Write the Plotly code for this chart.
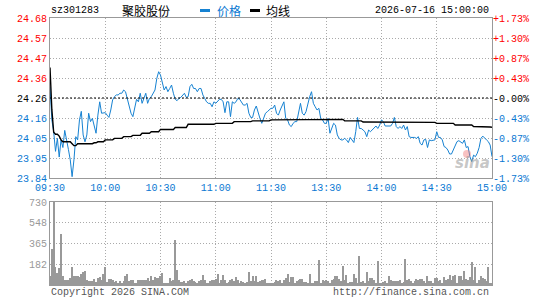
import plotly.graph_objects as go

W, H = 545, 300
prev_close = 24.26

time_ticks = [0, 30, 60, 90, 120, 150, 180, 210, 240]
time_labels = ["09:30", "10:00", "10:30", "11:00", "11:30", "13:30", "14:00", "14:30", "15:00"]

price_ticks = [24.68, 24.575, 24.47, 24.365, 24.26, 24.155, 24.05, 23.945, 23.84]
price_labels = ["24.68", "24.57", "24.47", "24.36", "24.26", "24.16", "24.05", "23.95", "23.84"]
pct_labels = ["+1.73%", "+1.30%", "+0.87%", "+0.43%", "-0.00%", "-0.43%", "-0.87%", "-1.30%", "-1.73%"]

vol_ticks = [182, 365, 548, 730]
vol_labels = ["182", "365", "548", "730"]

price = [
    24.32, 24.145, 24.083, 23.98, 24.048, 23.95, 24.04, 24.00, 24.09, 24.048,
    23.99, 23.935, 23.847, 23.935, 24.057, 24.04, 24.145, 24.19, 24.066, 24.03,
    24.066, 24.18, 24.136, 24.153, 24.118, 24.075, 24.17, 24.24, 24.18, 24.18,
    24.183, 24.17, 24.158, 24.197, 24.25, 24.267, 24.276, 24.276, 24.285, 24.285,
    24.302, 24.293, 24.25, 24.206, 24.18, 24.162, 24.214, 24.253, 24.24, 24.285,
    24.232, 24.258, 24.285, 24.232, 24.258, 24.267, 24.285, 24.302, 24.363, 24.398,
    24.38, 24.337, 24.302, 24.32, 24.293, 24.31, 24.328, 24.285, 24.253, 24.246,
    24.258, 24.263, 24.276, 24.285, 24.263, 24.267, 24.32, 24.332, 24.31, 24.31,
    24.293, 24.31, 24.31, 24.276, 24.258, 24.24, 24.232, 24.232, 24.214, 24.24,
    24.232, 24.24, 24.253, 24.253, 24.24, 24.183, 24.24, 24.24, 24.162, 24.24,
    24.232, 24.24, 24.258, 24.253, 24.24, 24.223, 24.223, 24.232, 24.18, 24.158,
    24.158, 24.197, 24.218, 24.18, 24.153, 24.127, 24.153, 24.18, 24.188, 24.197,
    24.206, 24.206, 24.223, 24.18, 24.17, 24.197, 24.223, 24.24, 24.153, 24.145,
    24.118, 24.11, 24.127, 24.136, 24.136, 24.18, 24.232, 24.18, 24.17, 24.188,
    24.232, 24.267, 24.293, 24.232, 24.214, 24.197, 24.206, 24.153, 24.145, 24.127,
    24.127, 24.153, 24.075, 24.10, 24.127, 24.118, 24.066, 24.048, 24.04, 24.04,
    24.048, 24.04, 24.026, 24.053, 24.04, 24.026, 24.083, 24.158, 24.10, 24.10,
    24.092, 24.083, 24.057, 24.092, 24.083, 24.092, 24.10, 24.113, 24.10, 24.118,
    24.145, 24.136, 24.113, 24.113, 24.113, 24.113, 24.127, 24.158, 24.11, 24.10,
    24.11, 24.10, 24.118, 24.092, 24.11, 24.057, 24.053, 24.053, 24.053, 24.048,
    24.057, 24.022, 24.013, 24.04, 24.043, 24.00, 24.04, 24.036, 24.04, 24.04,
    24.083, 24.053, 24.053, 24.04, 24.005, 24.00, 23.987, 23.966, 23.966, 23.987,
    24.013, 24.031, 24.036, 24.031, 24.022, 24.04, 24.00, 24.005, 23.952, 23.926,
    23.96, 23.952, 23.97, 24.00, 24.048, 24.06, 24.048, 24.04, 24.031, 24.013,
    23.952,
]

avg_price = [
    24.42, 24.20, 24.08, 24.07, 24.07, 24.06, 24.04, 24.03, 24.03, 24.03,
    24.03, 24.03, 24.02, 24.01, 24.01, 24.02, 24.02, 24.02, 24.02, 24.02,
    24.02, 24.02, 24.02, 24.02, 24.025, 24.025, 24.03, 24.03, 24.03, 24.03,
    24.04, 24.04, 24.04, 24.04, 24.04, 24.048, 24.048, 24.048, 24.048, 24.048,
    24.057, 24.057, 24.057, 24.057, 24.057, 24.064, 24.064, 24.064, 24.064, 24.064,
    24.075, 24.075, 24.075, 24.075, 24.075, 24.083, 24.083, 24.083, 24.083, 24.083,
    24.095, 24.095, 24.095, 24.095, 24.095, 24.095, 24.095, 24.095, 24.105, 24.105,
    24.105, 24.105, 24.105, 24.105, 24.105, 24.122, 24.122, 24.122, 24.122, 24.122,
    24.122, 24.122, 24.122, 24.122, 24.122, 24.122, 24.122, 24.122, 24.122, 24.122,
    24.127, 24.127, 24.127, 24.127, 24.127, 24.127, 24.127, 24.127, 24.127, 24.127,
    24.136, 24.136, 24.136, 24.136, 24.136, 24.136, 24.136, 24.136, 24.136, 24.136,
    24.14, 24.14, 24.14, 24.14, 24.14, 24.14, 24.14, 24.14, 24.14, 24.14,
    24.145, 24.145, 24.145, 24.145, 24.145, 24.145, 24.145, 24.145, 24.145, 24.145,
    24.145, 24.145, 24.145, 24.145, 24.145, 24.145, 24.145, 24.145, 24.145, 24.145,
    24.145, 24.145, 24.145, 24.145, 24.145, 24.145, 24.145, 24.145, 24.145, 24.145,
    24.148, 24.148, 24.148, 24.148, 24.148, 24.148, 24.148, 24.148, 24.148, 24.148,
    24.14, 24.14, 24.14, 24.14, 24.14, 24.14, 24.14, 24.14, 24.14, 24.14,
    24.134, 24.134, 24.134, 24.134, 24.134, 24.134, 24.134, 24.134, 24.134, 24.134,
    24.134, 24.134, 24.134, 24.134, 24.134, 24.134, 24.134, 24.134, 24.134, 24.134,
    24.134, 24.134, 24.134, 24.134, 24.134, 24.134, 24.134, 24.134, 24.134, 24.134,
    24.132, 24.132, 24.132, 24.132, 24.132, 24.132, 24.132, 24.132, 24.132, 24.132,
    24.127, 24.127, 24.127, 24.127, 24.127, 24.127, 24.127, 24.127, 24.127, 24.127,
    24.118, 24.118, 24.118, 24.118, 24.118, 24.118, 24.118, 24.118, 24.118, 24.118,
    24.11, 24.11, 24.11, 24.11, 24.11, 24.11, 24.11, 24.11, 24.11, 24.108,
    24.106,
]

volume = [
    82, 320, 730, 158, 105, 150, 451, 76, 47, 47,
    47, 62, 158, 76, 82, 82, 70, 100, 117, 126,
    41, 38, 38, 32, 56, 23, 64, 67, 41, 97,
    158, 29, 56, 53, 47, 23, 32, 18, 32, 18,
    32, 82, 100, 32, 47, 47, 18, 18, 41, 47,
    47, 47, 41, 59, 32, 76, 47, 67, 62, 62,
    76, 105, 18, 18, 18, 62, 35, 47, 395, 135,
    41, 29, 23, 32, 18, 38, 47, 53, 32, 23,
    18, 32, 47, 88, 47, 18, 18, 32, 47, 41,
    53, 97, 18, 41, 85, 47, 18, 23, 47, 53,
    32, 70, 47, 18, 32, 23, 18, 23, 117, 32,
    76, 32, 82, 29, 38, 41, 47, 53, 18, 18,
    12, 20, 30, 47, 32, 41, 18, 47, 59, 97,
    23, 67, 67, 20, 32, 47, 53, 53, 29, 29,
    18, 100, 18, 15, 38, 38, 223, 20, 47, 32,
    47, 32, 20, 47, 53, 76, 76, 56, 32, 170,
    47, 91, 20, 23, 23, 100, 59, 15, 258, 23,
    38, 20, 117, 38, 59, 59, 47, 18, 214, 18,
    15, 23, 32, 20, 76, 47, 38, 38, 32, 32,
    47, 20, 29, 231, 47, 56, 38, 20, 32, 53,
    47, 53, 56, 32, 20, 76, 32, 32, 20, 59,
    59, 32, 47, 20, 70, 47, 53, 91, 47, 82,
    91, 20, 82, 82, 47, 120, 53, 47, 70, 205,
    47, 158, 20, 47, 76, 62, 53, 32, 158, 18,
    12,
]

minutes = list(range(len(price)))

RED = "#ff0000"
BLUE = "#0a78d2"
LINEBLUE = "#1682d2"
GRID = "#aaaaaa"
BORDER = "#999999"
FONT = "Liberation Mono"

fig = go.Figure()

fig.add_trace(go.Scatter(x=minutes, y=price, mode="lines",
                         line=dict(color=LINEBLUE, width=1), xaxis="x", yaxis="y",
                         showlegend=False, hoverinfo="skip"))
fig.add_trace(go.Scatter(x=minutes, y=avg_price, mode="lines",
                         line=dict(color="#000000", width=1.4), xaxis="x", yaxis="y",
                         showlegend=False, hoverinfo="skip"))
fig.add_trace(go.Scatter(x=[0, 240], y=[prev_close, prev_close], mode="lines",
                         line=dict(color="#000000", width=1, dash="2px,2px"),
                         xaxis="x", yaxis="y", showlegend=False, hoverinfo="skip"))
fig.add_trace(go.Bar(x=minutes, y=volume, width=0.6,
                     marker=dict(color="#999999", line=dict(width=0)),
                     xaxis="x2", yaxis="y2", showlegend=False, hoverinfo="skip"))
fig.add_trace(go.Scatter(x=[0], y=[prev_close], mode="markers", marker=dict(opacity=0),
                         xaxis="x", yaxis="y3", showlegend=False, hoverinfo="skip"))

xdom = [50 / W, 492 / W]


def py(p):
    return 1 - p / H


def label_color(i):
    if i < 4:
        return RED
    if i == 4:
        return "#000000"
    return BLUE


left_text = ['<span style="color:%s">%s</span>' % (label_color(i), t) for i, t in enumerate(price_labels)]
right_text = ['<span style="color:%s">%s</span>' % (label_color(i), t) for i, t in enumerate(pct_labels)]

axis_common = dict(showline=True, linecolor=BORDER, linewidth=1, mirror=True,
                   zeroline=False, fixedrange=True, automargin=False)

fig.update_layout(
    width=W, height=H,
    margin=dict(l=0, r=0, t=0, b=0, pad=0),
    paper_bgcolor="#ffffff", plot_bgcolor="#ffffff",
    font=dict(family=FONT, size=10, color="#000000"),
    bargap=0,
    xaxis=dict(domain=xdom, range=[0, 240], anchor="y",
               tickmode="array", tickvals=time_ticks, ticktext=time_labels,
               tickfont=dict(color=BLUE, size=10, family=FONT), ticks="",
               showgrid=True, gridcolor=GRID, griddash="1px,2px", gridwidth=1,
               **axis_common),
    yaxis=dict(domain=[py(178), py(18)], range=[23.84, 24.68], anchor="x",
               tickmode="array", tickvals=price_ticks, ticktext=left_text,
               tickfont=dict(size=10, family=FONT), ticks="",
               showgrid=True, gridcolor=GRID, griddash="1px,2px", gridwidth=1,
               **axis_common),
    yaxis3=dict(overlaying="y", side="right", range=[23.84, 24.68], anchor="x",
                tickmode="array", tickvals=price_ticks, ticktext=right_text,
                tickfont=dict(size=10, family=FONT), ticks="",
                showgrid=False, showline=False, zeroline=False, fixedrange=True,
                automargin=False),
    xaxis2=dict(domain=xdom, range=[0, 240], anchor="y2",
                tickmode="array", tickvals=time_ticks, showticklabels=False, ticks="",
                showgrid=True, gridcolor=GRID, griddash="1px,2px", gridwidth=1,
                **axis_common),
    yaxis2=dict(domain=[py(285), py(202)], range=[0, 730], anchor="x2",
                tickmode="array", tickvals=vol_ticks, ticktext=vol_labels,
                tickfont=dict(size=10, family=FONT, color="#999999"), ticks="",
                showgrid=True, gridcolor=GRID, griddash="1px,2px", gridwidth=1,
                **axis_common),
)

ann = []


def add_text(x, y, text, color="#000000", size=10, family=FONT, xanchor="left"):
    ann.append(dict(x=x / W, y=py(y), xref="paper", yref="paper", text=text,
                    showarrow=False, xanchor=xanchor, yanchor="middle",
                    font=dict(color=color, size=size, family=family)))


add_text(49, 11, "sz301283")
add_text(120, 11, "聚胶股份", size=12, family="Noto Sans CJK SC")
add_text(215, 11, "价格", color=BLUE, size=12, family="Noto Sans CJK SC")
add_text(264, 11, "均线", size=12, family="Noto Sans CJK SC")
add_text(491, 11, "2026-07-16 15:00:00", xanchor="right")
add_text(49, 292, "Copyright 2026 SINA.COM", color="#555555")
add_text(491, 292, "http://finance.sina.com.cn", color="#555555", xanchor="right")
ann.append(dict(x=472 / W, y=py(163), xref="paper", yref="paper", text="<b><i>sina</i></b>",
                showarrow=False, xanchor="center", yanchor="middle",
                font=dict(color="rgba(150,150,150,0.55)", size=15, family="DejaVu Sans")))

fig.update_layout(annotations=ann)

fig.add_shape(type="line", xref="paper", yref="paper", x0=200 / W, x1=210 / W,
              y0=py(10.5), y1=py(10.5), line=dict(color=LINEBLUE, width=3))
fig.add_shape(type="line", xref="paper", yref="paper", x0=250 / W, x1=260 / W,
              y0=py(10.5), y1=py(10.5), line=dict(color="#000000", width=3))
fig.add_shape(type="circle", xref="paper", yref="paper", x0=463 / W, x1=471 / W,
              y0=py(158), y1=py(150), line=dict(width=0),
              fillcolor="rgba(240,120,120,0.45)")

fig.write_html("out.html")
